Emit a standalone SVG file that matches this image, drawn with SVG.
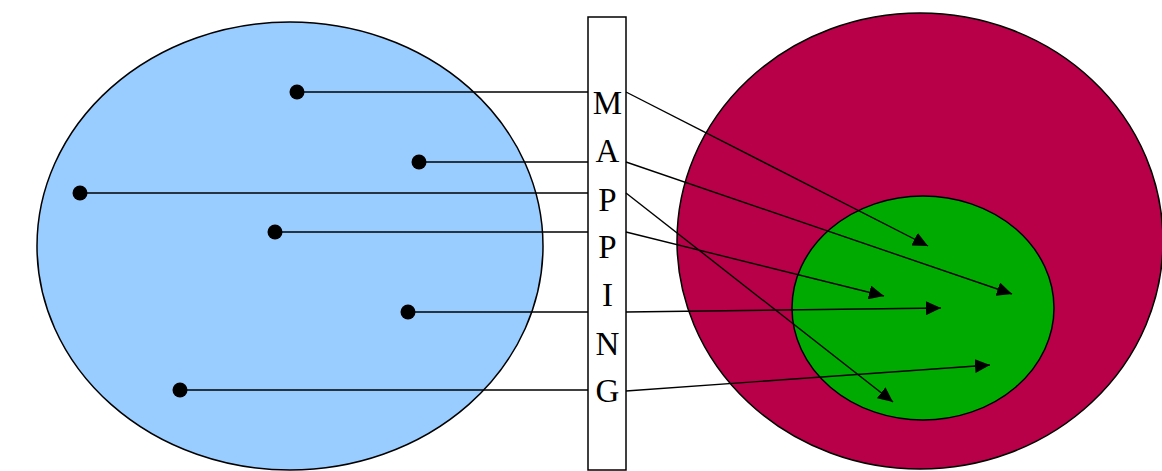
<svg xmlns="http://www.w3.org/2000/svg" width="1162" height="471" viewBox="0 0 1162 471">
<style>
.set{stroke:#000;stroke-width:1.5}
.dot{fill:#000}
.ln{stroke:#000;stroke-width:1.4;fill:none}
.arr{stroke:#000;stroke-width:1.4;fill:none;marker-end:url(#ah)}
.lt{font-family:"Liberation Serif",serif;font-size:33px;fill:#000;text-anchor:middle}
</style>
<defs>
<marker id="ah" markerUnits="userSpaceOnUse" markerWidth="16" markerHeight="14" refX="15" refY="7" orient="auto">
<path d="M0,0 L15,7 L0,14 Z" fill="#000"/>
</marker>
</defs>
<rect width="1162" height="471" fill="#fff"/>
<g id="domain"><ellipse class="set" cx="290" cy="246" rx="253" ry="224" fill="#99CCFF"/></g>
<g id="codomain"><ellipse class="set" cx="920" cy="241" rx="243" ry="228" fill="#B80048"/></g>
<g id="range"><ellipse class="set" cx="923" cy="308" rx="131" ry="112" fill="#00AA00"/></g>
<g id="mapping">
<rect x="588" y="17" width="38" height="453" fill="#fff" stroke="#000" stroke-width="1.5"/>
<text class="lt" x="607.5" y="114">M</text>
<text class="lt" x="607.5" y="162">A</text>
<text class="lt" x="607.5" y="211">P</text>
<text class="lt" x="607.5" y="258">P</text>
<text class="lt" x="607.5" y="306">I</text>
<text class="lt" x="607.5" y="355">N</text>
<text class="lt" x="607.5" y="402">G</text>
</g>
<g id="connectors">
<line class="ln" x1="297" y1="92" x2="588" y2="92"/>
<line class="ln" x1="419" y1="162" x2="588" y2="162"/>
<line class="ln" x1="80" y1="193" x2="588" y2="193"/>
<line class="ln" x1="275" y1="232" x2="588" y2="232"/>
<line class="ln" x1="408" y1="312" x2="588" y2="312"/>
<line class="ln" x1="180" y1="390" x2="588" y2="390"/>
<line class="arr" x1="626" y1="92" x2="928" y2="246"/>
<line class="arr" x1="626" y1="162" x2="1012" y2="294"/>
<line class="arr" x1="626" y1="193" x2="893" y2="402"/>
<line class="arr" x1="626" y1="232" x2="884" y2="296"/>
<line class="arr" x1="626" y1="312" x2="941" y2="308"/>
<line class="arr" x1="626" y1="391" x2="990" y2="365"/>
</g>
<g id="points">
<g id="p1"><ellipse class="dot" cx="297" cy="92" rx="7.5" ry="7.5"/></g>
<g id="p2"><ellipse class="dot" cx="419" cy="162" rx="7.5" ry="7.5"/></g>
<g id="p3"><ellipse class="dot" cx="80" cy="193" rx="7.5" ry="7.5"/></g>
<g id="p4"><ellipse class="dot" cx="275" cy="232" rx="7.5" ry="7.5"/></g>
<g id="p5"><ellipse class="dot" cx="408" cy="312" rx="7.5" ry="7.5"/></g>
<g id="p6"><ellipse class="dot" cx="180" cy="390" rx="7.5" ry="7.5"/></g>
</g>
</svg>
